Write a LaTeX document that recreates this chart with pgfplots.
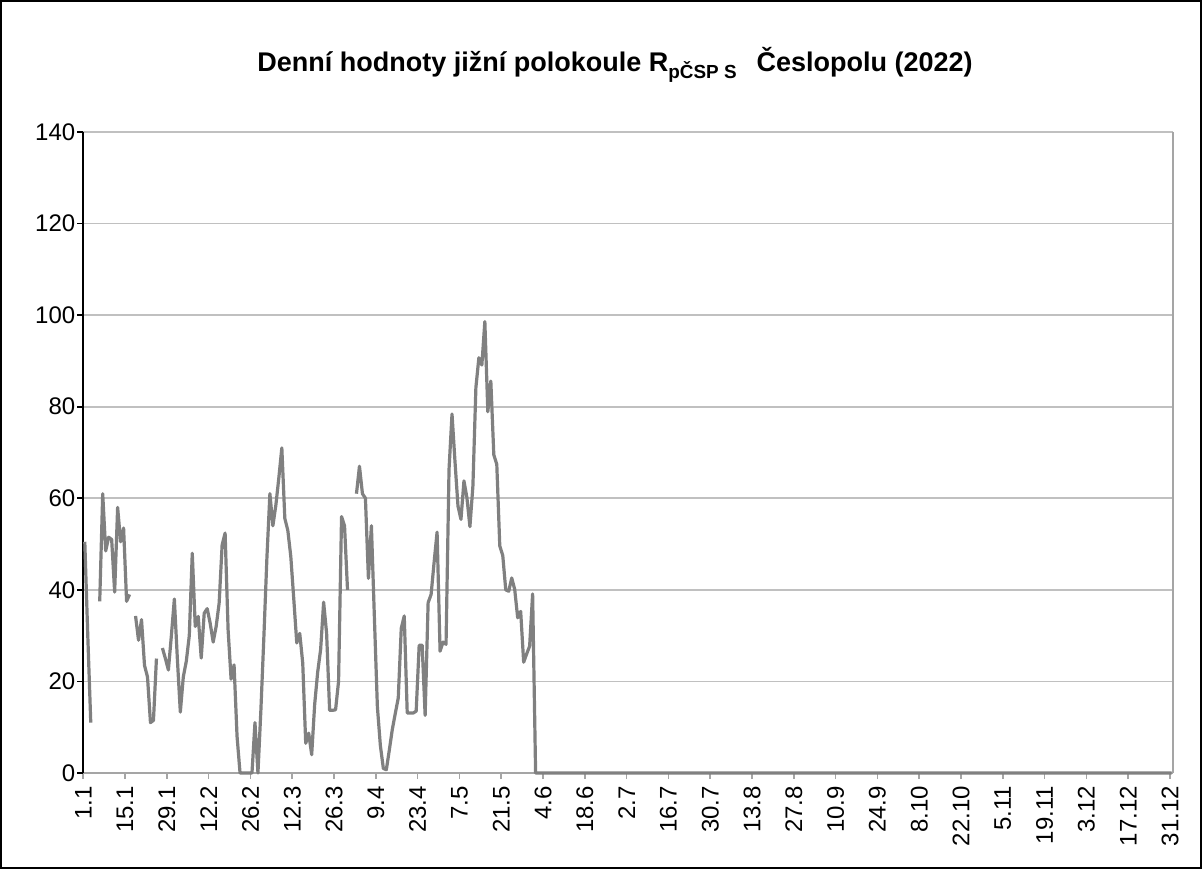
\documentclass[border=0pt]{standalone}
\usepackage{fontspec}
\setmainfont{Liberation Sans}
\usepackage{pgfplots}
\pgfplotsset{compat=1.18}
\definecolor{linegray}{RGB}{128,128,128}
\definecolor{gridgray}{RGB}{192,192,192}
\definecolor{axgray}{RGB}{165,165,165}

\begin{document}
\begin{tikzpicture}
\path[use as bounding box] (0,0) rectangle (601bp,434.5bp);
\draw[black, line width=0.8bp] (0.4bp,0.4bp) rectangle (600.6bp,434.1bp);
\node[font=\fontsize{13.5bp}{16bp}\selectfont\bfseries] at (307.5bp,402bp)
  {Denní hodnoty jižní polokoule R\textsubscript{pČSP S}\hspace{0.7em}Česlopolu (2022)};
\begin{axis}[
  at={(41.65bp,48bp)}, anchor=south west,
  scale only axis, width=544.85bp, height=320.5bp,
  xmin=0.5, xmax=365.5, ymin=0, ymax=140,
  axis x line*=bottom, axis y line*=left,
  x axis line style={axgray, line width=0.8bp, -},
  y axis line style={black, line width=0.8bp, -},
  ytick={0,20,40,60,80,100,120,140},
  xtick={0.5,14.5,28.5,42.5,56.5,70.5,84.5,98.5,112.5,126.5,140.5,154.5,168.5,182.5,
         196.5,210.5,224.5,238.5,252.5,266.5,280.5,294.5,308.5,322.5,336.5,350.5,364.5},
  xticklabels={1.1,15.1,29.1,12.2,26.2,12.3,26.3,9.4,23.4,7.5,21.5,4.6,18.6,2.7,
               16.7,30.7,13.8,27.8,10.9,24.9,8.10,22.10,5.11,19.11,3.12,17.12,31.12},
  tick align=outside, major tick length=3bp,
  xtick style={axgray, line width=0.8bp},
  ytick style={black, line width=0.8bp},
  ymajorgrids, grid style={gridgray, line width=0.8bp},
  tick label style={font=\fontsize{12bp}{14bp}\selectfont},
  x tick label style={rotate=90, anchor=east},
  y tick label style={xshift=2.5bp},
  /pgf/number format/assume math mode=true,
  unbounded coords=jump,
  clip=false,
]
\addplot[linegray, line width=1.6bp, line join=round, no marks] coordinates {
(1,50.5)(2,30)(3,11)(4,nan)(5,nan)(6,37.5)(7,61)(8,48.5)(9,51.5)(10,51)
(11,39.5)(12,58)(13,50.5)(14,53.5)(15,37.5)(16,39)(17,nan)(18,34.3)(19,29)(20,33.5)
(21,23.5)(22,21)(23,11)(24,11.5)(25,25)(26,nan)(27,27.3)(28,25)(29,22.5)(30,30)
(31,38)(32,25)(33,13.3)(34,21)(35,24.4)(36,30)(37,48)(38,32)(39,34.2)(40,25.1)
(41,34.9)(42,35.9)(43,32.7)(44,28.6)(45,32)(46,37.1)(47,49.8)(48,52.4)(49,31.3)(50,20.5)
(51,23.6)(52,8)(53,0)(54,0)(55,0)(56,0)(57,0)(58,11)(59,0)(60,14)
(61,30)(62,47)(63,61)(64,54)(65,58.5)(66,64.5)(67,71)(68,55.6)(69,53)(70,47.3)
(71,38)(72,28.4)(73,30.5)(74,24)(75,6.5)(76,8.7)(77,4)(78,15)(79,22)(80,27)
(81,37.3)(82,30.5)(83,13.7)(84,13.7)(85,13.8)(86,20)(87,56)(88,54)(89,40)(90,nan)
(91,nan)(92,61)(93,67)(94,61)(95,60)(96,42.5)(97,54)(98,34)(99,14.5)(100,6)
(101,1)(102,0.7)(103,5)(104,9.5)(105,13)(106,16.4)(107,31.6)(108,34.3)(109,13.1)(110,13.1)
(111,13.1)(112,13.5)(113,27.9)(114,27.9)(115,12.6)(116,37.2)(117,39)(118,46)(119,52.6)(120,26.6)
(121,28.6)(122,28.1)(123,66.3)(124,78.4)(125,68)(126,58.3)(127,55.4)(128,63.8)(129,60.1)(130,53.8)
(131,62.7)(132,84.2)(133,90.7)(134,89.1)(135,98.6)(136,78.9)(137,85.6)(138,69.5)(139,67.4)(140,49.6)
(141,47.5)(142,40)(143,39.7)(144,42.6)(145,40.1)(146,33.9)(147,35.3)(148,24.2)(149,26)(150,27.7)
(151,39.1)(152,0)(365,0)
};
\draw[axgray, line width=0.8bp] (axis cs:365.5,0) -- (axis cs:365.5,140);
\end{axis}
\end{tikzpicture}
\end{document}
